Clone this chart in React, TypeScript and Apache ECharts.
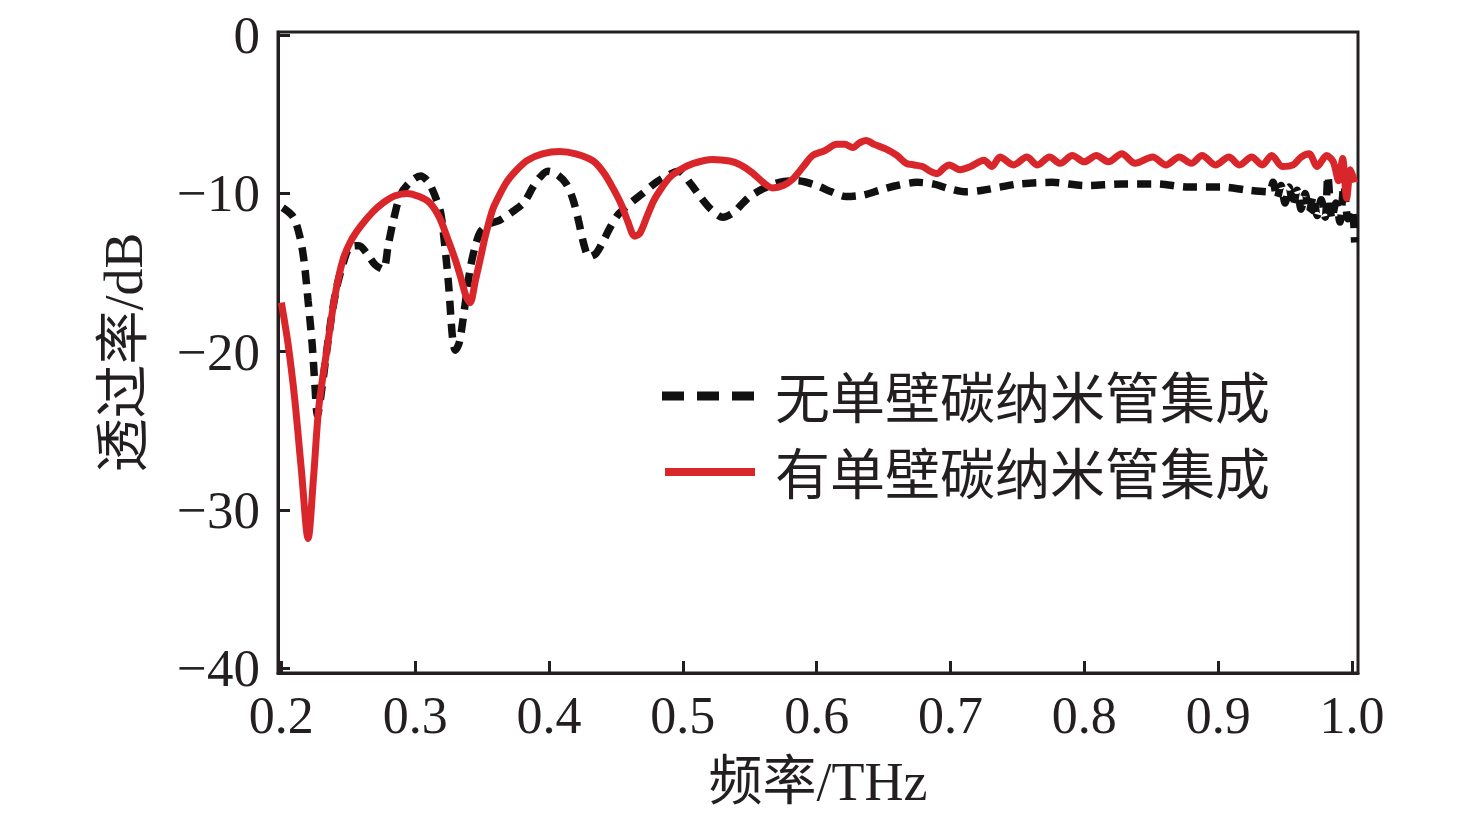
import React, { useEffect, useRef } from "react";
import * as echarts from "echarts";

const xTicks = [0.2, 0.3, 0.4, 0.5, 0.6, 0.7, 0.8, 0.9, 1.0];
const yTicks = [0, -10, -20, -30, -40];
const seriesNames = ["无单壁碳纳米管集成", "有单壁碳纳米管集成"];

const withoutCNT: [number, number][] = [
  [0.201, -10.9], [0.209, -11.5], [0.214, -12.8], [0.217, -14.3], [0.22, -16.8],
  [0.223, -19.5], [0.225, -22.0], [0.227, -24.0], [0.23, -22.5], [0.234, -19.9],
  [0.238, -17.5], [0.242, -15.7], [0.247, -14.2], [0.251, -13.4], [0.258, -13.3],
  [0.264, -13.8], [0.27, -14.5], [0.276, -14.8], [0.28, -13.2], [0.284, -11.6],
  [0.289, -10.1], [0.296, -9.3], [0.304, -8.9], [0.31, -9.3], [0.315, -10.2],
  [0.319, -11.2], [0.322, -13.2], [0.325, -15.8], [0.328, -19.2], [0.33, -19.9],
  [0.333, -19.4], [0.337, -17.2], [0.341, -14.8], [0.345, -13.3], [0.349, -12.4],
  [0.356, -11.9], [0.363, -11.7], [0.372, -11.2], [0.381, -10.6], [0.388, -9.6],
  [0.393, -9.0], [0.399, -8.6], [0.406, -8.8], [0.413, -9.4], [0.418, -10.4],
  [0.422, -11.7], [0.426, -13.2], [0.43, -14.0], [0.435, -13.8], [0.44, -13.1],
  [0.446, -12.1], [0.452, -11.3], [0.461, -10.6], [0.47, -10.0], [0.48, -9.3],
  [0.49, -8.8], [0.497, -8.6], [0.505, -9.3], [0.513, -10.2], [0.521, -11.0],
  [0.53, -11.5], [0.538, -11.2], [0.545, -10.6], [0.55, -10.2], [0.56, -9.7],
  [0.572, -9.3], [0.585, -9.2], [0.6, -9.5], [0.611, -9.9], [0.622, -10.2],
  [0.635, -10.1], [0.647, -9.8], [0.66, -9.5], [0.675, -9.3], [0.687, -9.4],
  [0.699, -9.7], [0.712, -9.9], [0.724, -9.8], [0.737, -9.6], [0.751, -9.4],
  [0.776, -9.3], [0.801, -9.5], [0.828, -9.4], [0.854, -9.4], [0.878, -9.6],
  [0.903, -9.6], [0.923, -9.8], [0.938, -9.9], [0.941, -9.3], [0.944, -10.3],
  [0.947, -9.5], [0.95, -10.6], [0.953, -9.6], [0.956, -10.8], [0.959, -9.8],
  [0.962, -11.0], [0.965, -10.0], [0.968, -11.2], [0.971, -10.2], [0.974, -11.4],
  [0.977, -10.4], [0.98, -11.5], [0.982, -8.9], [0.985, -11.6], [0.988, -10.6],
  [0.991, -11.8], [0.994, -9.5], [0.997, -11.6], [1.0, -11.0], [1.002, -13.1],
];

const withCNT: [number, number][] = [
  [0.2, -16.9], [0.205, -19.5], [0.21, -23.0], [0.215, -27.5], [0.22, -31.8],
  [0.224, -28.0], [0.228, -23.5], [0.234, -19.9], [0.24, -16.5], [0.246, -14.2],
  [0.252, -13.0], [0.259, -12.1], [0.268, -11.2], [0.276, -10.6], [0.285, -10.15],
  [0.294, -10.0], [0.303, -10.2], [0.311, -10.6], [0.318, -11.5], [0.324, -12.8],
  [0.33, -14.2], [0.334, -15.3], [0.338, -16.5], [0.341, -16.9], [0.345, -15.5],
  [0.349, -14.0], [0.353, -12.5], [0.358, -11.0], [0.363, -10.1], [0.369, -9.2],
  [0.376, -8.5], [0.384, -7.9], [0.395, -7.5], [0.408, -7.35], [0.42, -7.5],
  [0.433, -7.95], [0.441, -8.7], [0.448, -9.7], [0.454, -10.7], [0.459, -11.8],
  [0.464, -12.7], [0.468, -12.5], [0.473, -11.5], [0.478, -10.5], [0.483, -9.8],
  [0.49, -9.0], [0.498, -8.5], [0.508, -8.1], [0.522, -7.85], [0.535, -7.95],
  [0.543, -8.2], [0.552, -8.7], [0.56, -9.3], [0.567, -9.65], [0.575, -9.5],
  [0.582, -9.1], [0.59, -8.3], [0.597, -7.6], [0.606, -7.3], [0.615, -6.9],
  [0.621, -6.9], [0.627, -7.1], [0.632, -6.8], [0.637, -6.65], [0.643, -6.9],
  [0.652, -7.2], [0.66, -7.6], [0.667, -8.1], [0.673, -8.2], [0.679, -8.3],
  [0.685, -8.6], [0.69, -8.75], [0.695, -8.4], [0.699, -8.2], [0.707, -8.5],
  [0.715, -8.3], [0.725, -7.9], [0.731, -8.3], [0.737, -7.7], [0.747, -8.2],
  [0.757, -7.7], [0.765, -8.2], [0.774, -7.7], [0.782, -8.1], [0.791, -7.6],
  [0.8, -8.0], [0.809, -7.6], [0.818, -8.0], [0.828, -7.5], [0.838, -8.1],
  [0.851, -7.7], [0.861, -8.2], [0.871, -7.7], [0.88, -8.1], [0.888, -7.6],
  [0.898, -8.2], [0.908, -7.7], [0.916, -8.2], [0.925, -7.7], [0.933, -8.2],
  [0.94, -7.6], [0.948, -8.3], [0.956, -8.2], [0.962, -7.7], [0.968, -7.5],
  [0.974, -8.3], [0.981, -7.6], [0.986, -8.0], [0.99, -9.2], [0.993, -7.8],
  [0.996, -10.3], [0.999, -8.5], [1.002, -9.3],
];

const AXIS = "#231f20";
const RED = "#d9262b";
const BLACK = "#111111";
const LATIN = "'Liberation Serif', 'Noto Sans CJK SC', serif";

const fmtY = (v: number) => (v < 0 ? "\u2212" + Math.abs(v) : String(v));

export default function App() {
  const ref = useRef<HTMLDivElement>(null);
  useEffect(() => {
    if (!ref.current) return;
    const chart = echarts.init(ref.current, undefined, { renderer: "svg" });
    chart.setOption({
      animation: false,
      backgroundColor: "#ffffff",
      grid: {
        left: 278,
        right: 118,
        top: 32,
        bottom: 152,
        show: true,
        borderColor: AXIS,
        borderWidth: 3,
        backgroundColor: "transparent",
        containLabel: false,
        outerBoundsMode: "none",
      },
      xAxis: {
        type: "value",
        min: 0.1975,
        max: 1.0045,
        name: "频率/THz",
        nameLocation: "middle",
        nameGap: 82,
        nameTextStyle: { fontFamily: LATIN, fontSize: 54, color: AXIS },
        axisLine: { show: true, onZero: false, lineStyle: { color: AXIS, width: 3 } },
        axisTick: {
          show: true,
          inside: true,
          length: 12,
          lineStyle: { color: AXIS, width: 3 },
          customValues: xTicks,
        },
        axisLabel: {
          margin: 16,
          fontFamily: LATIN,
          fontSize: 52,
          color: AXIS,
          customValues: xTicks,
          formatter: (v: number) => v.toFixed(1),
        },
        splitLine: { show: false },
      },
      yAxis: {
        type: "value",
        min: -40.3,
        max: 0.2,
        name: "透过率/dB",
        nameLocation: "middle",
        nameGap: 127,
        nameRotate: 90,
        nameTextStyle: { fontFamily: LATIN, fontSize: 54, color: AXIS },
        axisLine: { show: true, onZero: false, lineStyle: { color: AXIS, width: 3 } },
        axisTick: {
          show: true,
          inside: true,
          length: 12,
          lineStyle: { color: AXIS, width: 3 },
          customValues: yTicks,
        },
        axisLabel: {
          margin: 18,
          fontFamily: LATIN,
          fontSize: 53,
          color: AXIS,
          customValues: yTicks,
          formatter: fmtY,
        },
        splitLine: { show: false },
      },
      series: [
        {
          name: seriesNames[0],
          type: "line",
          data: withoutCNT,
          showSymbol: false,
          symbol: "none",
          smooth: 0.3,
          lineStyle: { color: BLACK, width: 7.5, type: [14, 9], cap: "butt" },
          z: 2,
        },
        {
          name: seriesNames[1],
          type: "line",
          data: withCNT,
          showSymbol: false,
          symbol: "none",
          smooth: 0.3,
          lineStyle: { color: RED, width: 7 },
          z: 3,
        },
      ],
      graphic: [
        {
          type: "line",
          shape: { x1: 662, y1: 396, x2: 755, y2: 396 },
          style: { stroke: BLACK, lineWidth: 9, lineDash: [22, 13] },
        },
        {
          type: "line",
          shape: { x1: 665, y1: 472, x2: 755, y2: 472 },
          style: { stroke: RED, lineWidth: 8 },
        },
        {
          type: "text",
          x: 775,
          y: 394,
          style: {
            text: seriesNames[0],
            fontFamily: "'Noto Sans CJK SC', sans-serif",
            fontSize: 55,
            fill: AXIS,
            verticalAlign: "middle",
            align: "left",
          },
        },
        {
          type: "text",
          x: 775,
          y: 470,
          style: {
            text: seriesNames[1],
            fontFamily: "'Noto Sans CJK SC', sans-serif",
            fontSize: 55,
            fill: AXIS,
            verticalAlign: "middle",
            align: "left",
          },
        },
      ],
    });
    return () => chart.dispose();
  }, []);
  return (
    <div
      ref={ref}
      style={{ position: "fixed", left: 0, top: 0, width: 1476, height: 825 }}
    />
  );
}
